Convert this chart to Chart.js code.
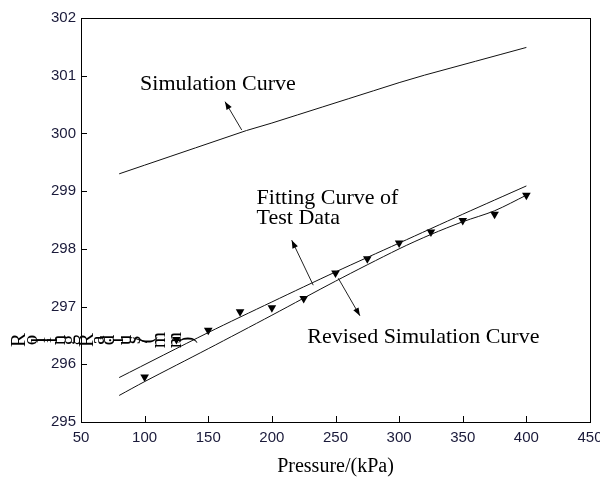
<!DOCTYPE html>
<html><head><meta charset="utf-8">
<script src="https://cdn.jsdelivr.net/npm/chart.js@4"></script>
<style>html,body{margin:0;padding:0;background:#fff}#wrap{width:600px;height:477px;position:relative}</style>
</head><body><div id="wrap"><canvas id="c" width="600" height="477" style="width:600px;height:477px"></canvas></div>
<script>
const xTicks=[50,100,150,200,250,300,350,400,450];
const yTicks=[295,296,297,298,299,300,301,302];
const simX=[80,100,120,140,160,180,200,220,240,260,280,300,320,340,360,380,400];
const simY=[299.30,299.45,299.60,299.75,299.90,300.05,300.18,300.32,300.46,300.60,300.74,300.88,301.01,301.13,301.25,301.37,301.49];
const fitX=[80,150,200,250,300,350,400];
const fitY=[295.77,296.55,297.08,297.60,298.10,298.60,299.09];
const revX=[80,100,150,200,250,300,325,350,375,400];
const revY=[295.46,295.70,296.27,296.85,297.44,298.00,298.25,298.47,298.66,298.93];
const testX=[100,125,150,175,200,225,250,275,300,325,350,375,400];
const testY=[295.78,296.43,296.59,296.91,296.98,297.14,297.58,297.83,298.10,298.29,298.49,298.60,298.93];
const xTitle='Pressure/(kPa)';
const yTitle='Rolling Radius/(mm)';
// annotations in data units
const labels=[
 {t:'Simulation Curve',x:96.4,y:300.75},
 {t:'Fitting Curve of',x:188.0,y:298.78},
 {t:'Test Data',x:188.0,y:298.43},
 {t:'Revised Simulation Curve',x:227.8,y:296.37}
];
const arrows=[
 {x1:176.3,y1:300.06,x2:163.2,y2:300.55},
 {x1:232.5,y1:297.37,x2:215.6,y2:298.15},
 {x1:252.2,y1:297.49,x2:269.2,y2:296.84}
];
const pts=(xs,ys)=>xs.map((x,i)=>({x:x,y:ys[i]}));
const INK='#111';
const TICKC='#1a1a3a';
const deco={
 id:'deco',
 afterDraw(ch){
  const c=ch.ctx,a=ch.chartArea,xs=ch.scales.x,ys=ch.scales.y;
  c.save();
  c.strokeStyle='#000';c.lineWidth=1;
  c.strokeRect(Math.round(a.left)+0.5,Math.round(a.top)+0.5,Math.round(a.right-a.left),Math.round(a.bottom-a.top));
  c.beginPath();
  xTicks.forEach(v=>{const p=Math.round(xs.getPixelForValue(v))+0.5;c.moveTo(p,a.bottom);c.lineTo(p,a.bottom-6);});
  yTicks.forEach(v=>{const p=Math.round(ys.getPixelForValue(v))+0.5;c.moveTo(a.left,p);c.lineTo(a.left+6,p);});
  c.stroke();
  // annotations
  c.fillStyle='#000';c.font='22px "Liberation Serif", "Times New Roman", serif';
  c.textAlign='left';c.textBaseline='alphabetic';
  labels.forEach(l=>c.fillText(l.t,xs.getPixelForValue(l.x),ys.getPixelForValue(l.y)));
  c.strokeStyle='#222';c.lineWidth=1;
  arrows.forEach(r=>{
   const x1=xs.getPixelForValue(r.x1),y1=ys.getPixelForValue(r.y1),x2=xs.getPixelForValue(r.x2),y2=ys.getPixelForValue(r.y2);
   c.beginPath();c.moveTo(x1,y1);c.lineTo(x2,y2);c.stroke();
   const ang=Math.atan2(y2-y1,x2-x1),L=8,W=3;
   c.beginPath();c.moveTo(x2,y2);
   c.lineTo(x2-L*Math.cos(ang)+W*Math.sin(ang),y2-L*Math.sin(ang)-W*Math.cos(ang));
   c.lineTo(x2-L*Math.cos(ang)-W*Math.sin(ang),y2-L*Math.sin(ang)+W*Math.cos(ang));
   c.closePath();c.fillStyle='#000';c.fill();
  });
  // x title
  c.font='20px "Liberation Serif", "Times New Roman", serif';
  c.textAlign='center';c.fillStyle='#000';
  c.fillText(xTitle,(a.left+a.right)/2,472);
  // y title: glyphs laid horizontally, each rotated
  c.font='21px "Liberation Serif", "Times New Roman", serif';
  let x=12;const cy=340;
  for(const ch2 of yTitle){
   const w=c.measureText(ch2).width;
   c.save();c.translate(x+w/2,cy);c.rotate(-Math.PI/2);
   c.textAlign='center';c.textBaseline='middle';c.fillText(ch2,0,0);c.restore();
   x+=w;
  }
  c.restore();
 }
};
new Chart(document.getElementById('c'),{
 type:'scatter',
 data:{datasets:[
  {data:pts(simX,simY),showLine:true,borderColor:INK,borderWidth:1,pointRadius:0,tension:0},
  {data:pts(fitX,fitY),showLine:true,borderColor:INK,borderWidth:1,pointRadius:0,tension:0.3},
  {data:pts(revX,revY),showLine:true,borderColor:INK,borderWidth:1,pointRadius:0,tension:0.3},
  {data:pts(testX,testY),showLine:false,pointStyle:'triangle',rotation:180,pointRadius:5,backgroundColor:'#000',borderColor:'#000',borderWidth:0}
 ]},
 options:{
  responsive:false,maintainAspectRatio:false,animation:false,devicePixelRatio:1,
  layout:{padding:{top:18,right:10,left:0,bottom:0}},
  plugins:{legend:{display:false},tooltip:{enabled:false}},
  scales:{
   x:{type:'linear',min:50,max:450,
      afterBuildTicks(s){s.ticks=xTicks.map(v=>({value:v}));},
      afterFit(s){s.height=55;s.paddingLeft=0;s.paddingRight=0;},
      grid:{display:false,drawTicks:false},border:{display:false},
      ticks:{padding:7,color:TICKC,font:{family:'"Liberation Sans", Arial, sans-serif',size:15},maxRotation:0,autoSkip:false}},
   y:{type:'linear',min:295,max:302,
      afterBuildTicks(s){s.ticks=yTicks.map(v=>({value:v}));},
      afterFit(s){s.width=81;s.paddingTop=0;s.paddingBottom=0;},
      grid:{display:false,drawTicks:false},border:{display:false},
      ticks:{padding:5,color:TICKC,font:{family:'"Liberation Sans", Arial, sans-serif',size:15},autoSkip:false}}
  }
 },
 plugins:[deco]
});
</script></body></html>
